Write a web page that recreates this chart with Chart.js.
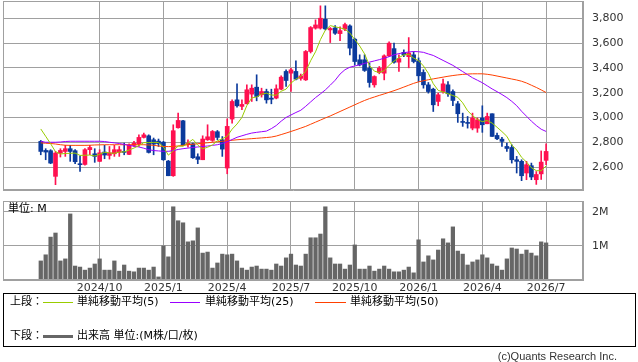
<!DOCTYPE html>
<html>
<head>
<meta charset="utf-8">
<script src="https://cdn.jsdelivr.net/npm/chart.js@4.4.1/dist/chart.umd.min.js"></script>
<style>
  html, body { margin: 0; padding: 0; background: #fff; }
  body { width: 638px; height: 362px; position: relative; overflow: hidden;
         font-family: "DejaVu Sans", "Noto Sans CJK JP", sans-serif; font-size: 11px; color: #000; }
  canvas { position: absolute; left: 0; }
  #price { top: 0; }
  #volume { top: 195px; }
  .t { position: absolute; white-space: nowrap; line-height: 12px; }
  .box { position: absolute; left: 3px; top: 293px; width: 633px; height: 54px;
         border: 1px solid #000; box-sizing: border-box; }
  .ln { position: absolute; height: 0; border-top: 1px solid; }
</style>
</head>
<body>
<canvas id="price" width="638" height="195"></canvas>
<canvas id="volume" width="638" height="100"></canvas>

<div class="t" style="left:8px;top:203px;">単位: M</div>

<div class="box"></div>
<div class="t" style="left:10px;top:296px;">上段：</div>
<div class="ln" style="left:43px;top:302px;width:30px;border-color:#99cc00;"></div>
<div class="t" style="left:77px;top:296px;">単純移動平均(5)</div>
<div class="ln" style="left:170px;top:302px;width:30px;border-color:#9900ff;"></div>
<div class="t" style="left:205px;top:296px;">単純移動平均(25)</div>
<div class="ln" style="left:315px;top:302px;width:31px;border-color:#ff4000;"></div>
<div class="t" style="left:350px;top:296px;">単純移動平均(50)</div>
<div class="t" style="left:10px;top:330px;">下段：</div>
<div style="position:absolute;left:43px;top:335px;width:30px;height:3px;background:#666;"></div>
<div class="t" style="left:77px;top:330px;">出来高 単位:(M株/口/枚)</div>
<div class="t" style="right:21px;top:350px;font-family:'Liberation Sans',sans-serif;color:#333;">(c)Quants Research Inc.</div>

<script>
// weekly candles, oldest first
const opens = [2807,2734,2732,2525,2713,2726,2748,2732,2624,2621, 2740,2707,2646,2721,2694,2707,2718,2726,2702,2775,
  2788,2839,2852,2820,2809,2801,2648,2530,2917,2973, 2782,2788,2683,2659,2820,2815,2885,2820,2592,2987,
  3142,3089,3110,3188,3244,3183,3209,3156,3156,3228, 3371,3357,3371,3315,3303,3532,3720,3720,3792,3706,
  3722,3676,3712,3738,3631,3465,3465,3397,3263,3362, 3357,3497,3555,3446,3525,3490,3505,3457,3363,3263,
  3228,3129,3209,3263,3209,3110,2965,2960,2914,2914, 2995,2949,3030,2855,2825,2766,2758,2659,2646,2552,
  2611,2498,2545,2654];
const highs = [2815,2748,2740,2726,2748,2775,2775,2740,2691,2748, 2775,2748,2740,2775,2766,2775,2766,2793,2788,2807,
  2860,2874,2860,2834,2826,2807,2654,2941,3035,2976, 2820,2793,2707,2852,2941,2895,2895,2846,2989,3142,
  3271,3142,3263,3263,3344,3236,3228,3228,3263,3336, 3384,3397,3457,3350,3540,3733,3787,3900,3900,3725,
  3740,3730,3760,3747,3639,3505,3505,3438,3336,3411, 3505,3610,3600,3505,3545,3644,3530,3480,3385,3282,
  3236,3196,3309,3290,3222,3129,3035,3008,3035,2995, 3094,3035,3030,2874,2840,2793,2780,2686,2659,2646,
  2632,2564,2730,2788];
const lows = [2699,2659,2627,2458,2681,2686,2646,2627,2565,2616, 2699,2638,2643,2667,2664,2686,2686,2699,2699,2766,
  2766,2834,2713,2699,2766,2654,2530,2525,2914,2775, 2761,2670,2627,2659,2815,2807,2820,2686,2546,2954,
  3083,3062,3110,3129,3134,3164,3115,3110,3150,3223, 3250,3209,3303,3300,3298,3520,3712,3712,3706,3604,
  3670,3620,3700,3505,3424,3416,3371,3244,3244,3352, 3303,3491,3438,3371,3490,3400,3440,3290,3236,3196,
  3048,3094,3196,3169,3094,2960,2928,2914,2900,2880, 2880,2949,2847,2820,2766,2726,2632,2552,2490,2498,
  2498,2460,2500,2620];
const closes = [2726,2721,2632,2713,2734,2748,2726,2643,2619,2740, 2758,2686,2715,2697,2715,2740,2740,2718,2775,2793,
  2839,2860,2718,2785,2788,2659,2530,2893,2976,2780, 2792,2675,2662,2826,2844,2887,2839,2745,2928,3129,
  3094,3105,3223,3236,3169,3209,3142,3147,3231,3325, 3298,3384,3309,3335,3532,3725,3746,3800,3714,3717,
  3679,3700,3749,3559,3451,3424,3379,3282,3330,3397, 3497,3599,3445,3475,3505,3520,3451,3336,3263,3209,
  3102,3183,3271,3191,3137,3030,2960,2952,2995,2981, 2941,3008,2847,2828,2807,2750,2659,2646,2530,2619,
  2520,2540,2640,2726];
// the four closes before the first visible week (feed the 5-week average)
const prevCloses = [3016, 2932, 3033, 2829];

// volume in millions
const volumes = [0.56,0.74,1.26,1.38,0.56,0.62,1.94,0.41,0.38,0.29, 0.35,0.47,0.62,0.29,0.29,0.56,0.26,0.44,0.26,0.24,
  0.35,0.35,0.29,0.38,0.09,1.0,0.68,2.15,1.74,1.68, 1.12,1.15,1.53,0.79,0.82,0.35,0.5,0.76,0.74,0.76,
  0.56,0.35,0.29,0.38,0.41,0.32,0.32,0.29,0.47,0.41, 0.65,0.76,0.44,0.41,0.76,1.24,1.24,1.35,2.15,0.65,
  0.47,0.47,0.32,0.44,1.03,0.32,0.32,0.41,0.26,0.32, 0.41,0.32,0.24,0.24,0.29,0.38,0.21,1.18,0.53,0.71,
  0.59,0.88,1.21,1.09,1.56,0.85,0.76,0.44,0.53,0.59, 0.74,0.65,0.47,0.41,0.29,0.62,0.94,0.91,0.76,0.88,
  0.79,0.71,1.12,1.09];

// 25 and 50 week averages
const ma25 = [2807,2800,2800,2800,2802,2806,2808,2808,2808,2808, 2808,2808,2808,2806,2800,2795,2790,2783,2775,2768,
  2762,2752,2740,2733,2730,2727,2727,2732,2742,2748, 2753,2758,2762,2766,2770,2775,2780,2790,2805,2822,
  2840,2852,2864,2874,2880,2885,2890,2910,2935,2970, 3000,3020,3040,3058,3090,3125,3160,3190,3222,3260,
  3300,3350,3385,3405,3415,3424,3436,3446,3456,3466, 3478,3490,3505,3515,3522,3528,3532,3530,3525,3512,
  3500,3480,3460,3440,3420,3395,3370,3345,3320,3300, 3280,3255,3230,3208,3185,3160,3130,3095,3050,3010,
  2970,2935,2905,2887];
const ma50 = [2795,2792,2790,2786,2780,2776,2775,2775,2775,2775, 2776,2778,2779,2780,2780,2780,2780,2780,2780,2780,
  2780,2780,2778,2775,2770,2766,2765,2766,2770,2775, 2780,2784,2788,2792,2796,2800,2804,2808,2812,2816,
  2820,2823,2826,2829,2832,2835,2838,2842,2850,2862, 2874,2887,2900,2914,2928,2945,2962,2979,2996,3012,
  3030,3048,3066,3084,3102,3120,3137,3152,3165,3178, 3190,3203,3216,3230,3245,3260,3275,3287,3296,3304,
  3311,3318,3325,3332,3338,3343,3347,3350,3352,3352, 3352,3348,3342,3334,3326,3318,3310,3302,3292,3278,
  3260,3242,3222,3201];

const tickWeeks = [12, 25, 38, 51, 64, 77, 90, 103];
const tickLabels = ['2024/10', '2025/1', '2025/4', '2025/7', '2025/10', '2026/1', '2026/4', '2026/7'];
const priceTicks = [2600, 2800, 3000, 3200, 3400, 3600, 3800];
const volumeTicks = [1, 2];

const UP = '#ff1050';
const DOWN = '#0b3a9c';
const GRID = '#a0a0a0';

Chart.defaults.font.family = '"DejaVu Sans", sans-serif';
Chart.defaults.font.size = 11;
Chart.defaults.color = '#333';

// 5 week average from the closes
const allCloses = prevCloses.concat(closes);
const ma5 = closes.map((c, i) => {
  const w = allCloses.slice(i, i + 5);
  return w.reduce((a, b) => a + b, 0) / 5;
});

const pts = arr => arr.map((v, i) => ({ x: i, y: v }));
const candleColor = closes.map((c, i) => c >= opens[i] ? UP : DOWN);

// grey frame round the plot area
const frame = {
  id: 'frame',
  afterDraw(chart) {
    const { ctx, chartArea: a } = chart;
    ctx.save();
    ctx.strokeStyle = GRID;
    ctx.lineWidth = 1;
    ctx.strokeRect(Math.round(a.left) + 0.5, Math.round(a.top) + 0.5,
      Math.round(a.width) - 1, Math.round(a.height) - 1);
    ctx.restore();
  }
};

// labels never overhang here, so drop the padding Chart.js reserves for them
const noPad = s => { s.paddingTop = 0; s.paddingBottom = 0; s.paddingLeft = 0; s.paddingRight = 0; };

const X_MIN = -7.7;
const X_MAX = 110.52;

function xScale(showLabels) {
  return {
    type: 'linear',
    offset: false,
    min: X_MIN,
    max: X_MAX,
    afterBuildTicks: s => { s.ticks = tickWeeks.map(v => ({ value: v })); },
    afterFit: s => { s.height = showLabels ? 15 : 0; noPad(s); },
    grid: { color: GRID, drawTicks: false, offset: false },
    border: { color: GRID },
    ticks: {
      display: showLabels,
      autoSkip: false,
      maxRotation: 0,
      padding: 2,
      callback: (v, i) => tickLabels[i]
    }
  };
}

function yScale(min, max, ticks, fmt) {
  return {
    position: 'right',
    min: min,
    max: max,
    afterBuildTicks: s => { s.ticks = ticks.map(v => ({ value: v })); },
    afterFit: s => { s.width = 55; noPad(s); },
    grid: { color: GRID, drawTicks: false },
    border: { color: GRID },
    ticks: { padding: 9, callback: fmt }
  };
}

const lineStyle = color => ({
  type: 'line', borderColor: color, borderWidth: 1, pointRadius: 0,
  tension: 0, fill: false, order: 0
});

new Chart(document.getElementById('price'), {
  type: 'bar',
  data: {
    datasets: [
      { ...lineStyle('#99cc00'), label: 'MA5', data: pts(ma5) },
      { ...lineStyle('#9900ff'), label: 'MA25', data: pts(ma25) },
      { ...lineStyle('#ff4000'), label: 'MA50', data: pts(ma50) },
      {
        label: 'body', order: 1, grouped: false, barThickness: 4, minBarLength: 1,
        backgroundColor: candleColor,
        data: opens.map((o, i) => ({ x: i, y: [o, closes[i]] }))
      },
      {
        label: 'wick', order: 2, grouped: false, barThickness: 1,
        backgroundColor: candleColor,
        data: lows.map((l, i) => ({ x: i, y: [l, highs[i]] }))
      }
    ]
  },
  options: {
    responsive: false,
    animation: false,
    events: [],
    layout: { padding: { left: 3, top: 1, right: 0, bottom: 5 } },
    plugins: { legend: { display: false }, tooltip: { enabled: false } },
    scales: {
      x: xScale(false),
      y: yScale(2415, 3939, priceTicks, v => v.toLocaleString('en-US'))
    }
  },
  plugins: [frame]
});

new Chart(document.getElementById('volume'), {
  type: 'bar',
  data: {
    datasets: [{
      label: '出来高', grouped: false, barThickness: 3.6,
      backgroundColor: '#666666',
      data: pts(volumes)
    }]
  },
  options: {
    responsive: false,
    animation: false,
    events: [],
    layout: { padding: { left: 3, top: 6, right: 0, bottom: 0 } },
    plugins: { legend: { display: false }, tooltip: { enabled: false } },
    scales: {
      x: xScale(true),
      y: yScale(0, 2.32, volumeTicks, v => v + 'M')
    }
  },
  plugins: [frame]
});
</script>
</body>
</html>
